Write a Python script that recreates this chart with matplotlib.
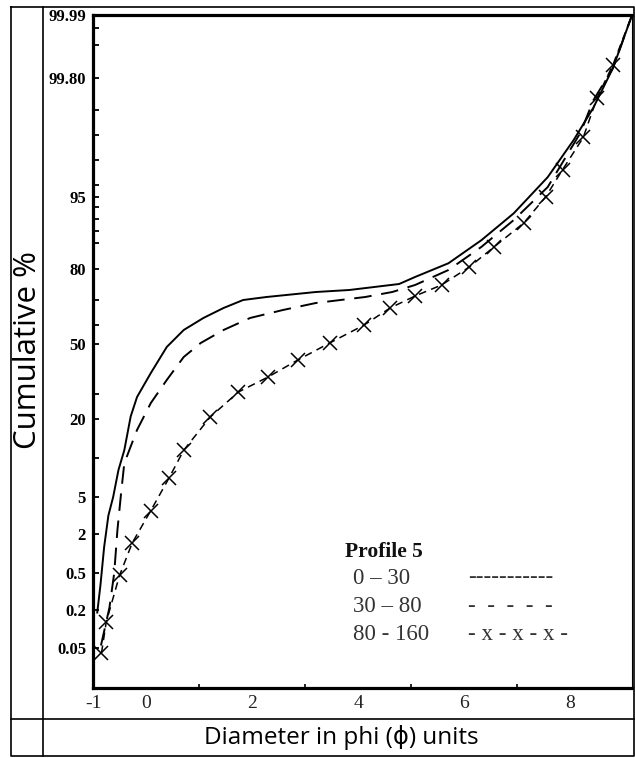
import numpy as np
import matplotlib.pyplot as plt
from matplotlib.lines import Line2D
from matplotlib.ticker import FixedLocator, NullFormatter

# probability paper: printed % values and their height on the sheet
paper_pct = [0.01, 0.05, 0.2, 0.5, 2, 5, 20, 50, 80, 95, 99.8, 99.99]
paper_pos = [0, 40, 78, 115, 154, 191, 269, 344, 419, 491, 610, 673]

y_ticks = [0.05, 0.2, 0.5, 2, 5, 20, 50, 80, 95, 99.8, 99.99]
y_labels = ["0.05", "0.2", "0.5", "2", "5", "20", "50", "80", "95", "99.80", "99.99"]
y_minor = [12.5, 30, 57.5, 67.5, 85.5, 88, 90.5, 93, 95.5, 96.5, 97.5, 98.5, 99.9, 99.95]
x_ticks = [-1, 0, 2, 4, 6, 8]
x_minor = [0, 1, 2, 3, 4, 5, 6, 7, 8]

# profile 5, depth 0 - 30
phi_0_30 = [-0.92, -0.86, -0.79, -0.71, -0.62, -0.52, -0.41, -0.29, -0.17, 0.09, 0.39, 0.71, 1.08, 1.46,
            1.83, 2.27, 3.20, 3.83, 4.77, 5.07, 5.70, 6.32, 6.93, 7.57, 8.06, 8.43, 8.80, 9.16]
pct_0_30 = [0.19, 0.40, 1.5, 3.5, 5.0, 10.2, 14, 21, 28.8, 38.4, 48.8, 55.6, 60.4, 64.4,
            67.6, 68.8, 70.8, 71.6, 74, 76.8, 81.2, 86, 91.6, 95.8, 97.3, 98.6, 99.83, 99.99]

# depth 30 - 80
phi_30_80 = [-0.85, -0.69, -0.60, -0.54, -0.47, -0.41, -0.17, 0.09, 0.39, 0.71, 1.03, 1.46, 1.96,
             2.58, 3.20, 4.13, 4.64, 5.07, 5.70, 6.32, 6.93, 7.57, 8.19, 8.43, 8.80, 9.16]
pct_30_80 = [0.06, 0.22, 0.5, 2.3, 5.8, 11.5, 17.9, 26.4, 35.6, 44.8, 50.4, 55.6, 60.4,
             63.6, 66.4, 68.8, 70.8, 73.6, 79.6, 84.6, 90.2, 95.4, 97.6, 98.9, 99.83, 99.99]

# depth 80 - 160
phi_80_160 = [-0.84, -0.75, -0.50, -0.26, 0.09, 0.43, 0.71, 1.21, 1.74, 2.30, 2.86, 3.46, 4.11,
              4.60, 5.07, 5.57, 6.09, 6.56, 7.12, 7.53, 7.85, 8.24, 8.50, 8.80, 9.16]
pct_80_160 = [0.045, 0.153, 0.48, 1.66, 3.9, 8.6, 14, 20.8, 30.8, 36.8, 43.6, 50.4, 57.6,
              64.4, 69.2, 73.6, 80.4, 84.6, 89.6, 95.0, 96.1, 97.4, 99.0, 99.84, 99.99]

legend_rows = ["0 \u2013 30", "30 \u2013 80", "80 - 160"]
legend_keys = ["-----------", "-  -  -  -  -", "- x - x - x -"]


def fwd(v):
    return np.interp(v, paper_pct, paper_pos)


def inv(p):
    return np.interp(p, paper_pos, paper_pct)


W, H = 635, 758
fig = plt.figure(figsize=(W / 100, H / 100), dpi=100)


def fx(x):
    return x / W


def fy(y):
    return 1 - y / H


ax = fig.add_axes([fx(93), fy(688), fx(632) - fx(93), fy(15) - fy(688)])
ax.set_yscale("function", functions=(fwd, inv))

ax.plot(phi_0_30, pct_0_30, color="black", lw=1.4)
ax.plot(phi_30_80, pct_30_80, color="black", lw=1.4, dashes=(9, 5))
ax.plot(phi_80_160, pct_80_160, color="black", lw=1.1, dashes=(5, 3.5),
        marker="x", ms=10, mew=1.1, markevery=slice(0, -1))

ax.set_xlim(-0.916, 9.159)
ax.set_ylim(0.01, 99.99)

ax.yaxis.set_major_locator(FixedLocator(y_ticks))
ax.yaxis.set_minor_locator(FixedLocator(y_minor))
ax.yaxis.set_minor_formatter(NullFormatter())
ax.set_yticklabels(y_labels, fontfamily="Liberation Serif", fontweight="bold", fontsize=12)
ax.tick_params(axis="y", which="both", direction="in", length=4, width=1.3, pad=5)

ax.set_xticks(x_ticks)
ax.set_xticklabels([str(t) for t in x_ticks], fontfamily="Liberation Serif", fontsize=14,
                   color="#222222")
ax.xaxis.set_minor_locator(FixedLocator(x_minor))
ax.tick_params(axis="x", which="major", length=0, pad=5)
ax.tick_params(axis="x", which="minor", direction="in", length=3, width=1.2)

for side in ["left", "bottom", "top"]:
    ax.spines[side].set_linewidth(2.3)
ax.spines["right"].set_linewidth(0.8)

# legend as typed on the original sheet
fig.text(fx(345), fy(552), "Profile 5", fontfamily="Liberation Serif", fontweight="bold",
         fontsize=15.5, va="center", color="#111111")
for i, (row, key) in enumerate(zip(legend_rows, legend_keys)):
    y = 578 + 28 * i
    fig.text(fx(353), fy(y), row, fontfamily="Liberation Serif", fontsize=16.5,
             va="center", color="#333333")
    fig.text(fx(468), fy(y), key, fontfamily="Liberation Serif", fontsize=16.5,
             va="center", color="#333333")

# table frame around the figure
lw = 1.2
fig.add_artist(Line2D([fx(11), fx(634), fx(634), fx(11), fx(11)],
                      [fy(7), fy(7), fy(756), fy(756), fy(7)], color="black", lw=lw))
fig.add_artist(Line2D([fx(43), fx(43)], [fy(7), fy(756)], color="black", lw=lw))
fig.add_artist(Line2D([fx(11), fx(634)], [fy(719), fy(719)], color="black", lw=lw))

label_font = ["Open Sans", "DejaVu Sans"]
fig.text(fx(28), fy(350), "Cumulative %", rotation=90, ha="center", va="center",
         family=label_font, fontsize=22.5)
fig.text(fx(341), fy(737), "Diameter in phi (\u03d5) units", ha="center", va="center",
         family=label_font, fontsize=17.5)

fig.savefig("out.png", dpi=100)
